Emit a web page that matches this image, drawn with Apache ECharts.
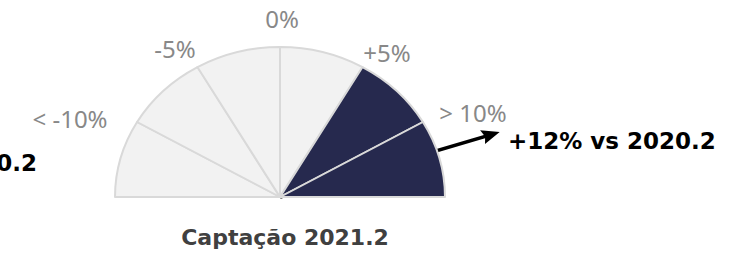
<!DOCTYPE html>
<html>
<head>
<meta charset="utf-8">
<script src="https://cdn.jsdelivr.net/npm/echarts@6/dist/echarts.min.js"></script>
<style>
  html, body { margin: 0; padding: 0; background: #fff; }
  #wrap { position: relative; width: 745px; height: 253px; }
  #gauge, #texts { position: absolute; left: 0; top: 0; width: 745px; height: 253px; }
  /* o velocímetro original é um pouco achatado na vertical */
  #gauge { transform: scaleY(0.909); transform-origin: 280px 197px; }
</style>
</head>
<body>
<div id="wrap">
  <div id="gauge"></div>
  <div id="texts"></div>
</div>
<script>
// faixas do velocímetro (da esquerda para a direita)
const faixas = ['< -10%', '-10% a -5%', '-5% a 0%', '0% a +5%', '+5% a +10%', '> 10%']
const pesos = [1, 1, 1, 1, 1, 1]
const atingido = [false, false, false, false, true, true]

// rótulos nas divisões
const rotulos = ['< -10%', '-5%', '0%', '+5%', '> 10%']

// valor apontado pela seta
const variacao = 12
const textoSeta = '+12% vs 2020.2'
const textoEsquerda = 'vs 2020.2'
const titulo = 'Captação 2021.2'

const corClara = '#f2f2f2'
const corEscura = '#26294e'

const gauge = echarts.init(document.getElementById('gauge'), null, { renderer: 'svg' })
gauge.setOption({
  animation: false,
  series: [
    {
      type: 'pie',
      center: [280, 197],
      radius: [0, 165],
      startAngle: 180,
      endAngle: 0,
      clockwise: true,
      silent: true,
      label: { show: false },
      labelLine: { show: false },
      itemStyle: { borderColor: '#d9d9d9', borderWidth: 2 },
      data: faixas.map((nome, i) => ({
        name: nome,
        value: pesos[i],
        itemStyle: { color: atingido[i] ? corEscura : corClara }
      }))
    },
    {
      type: 'gauge',
      center: [280, 197],
      radius: 231,
      startAngle: 180,
      endAngle: 0,
      min: -15,
      max: 15,
      axisLine: { show: false },
      axisTick: { show: false },
      splitLine: { show: false },
      axisLabel: { show: false },
      anchor: { show: false },
      title: { show: false },
      detail: { show: false },
      pointer: {
        icon: 'path://M8,0 L16,18 L10,16 L10,231 L6,231 L6,16 L0,18 Z',
        length: '100%',
        width: 16,
        itemStyle: { color: '#000' }
      },
      data: [{ value: variacao }]
    }
  ]
})

// posição dos rótulos (centro do texto)
const posRotulos = [[70, 118], [175, 48], [282, 18], [387, 52], [473, 112]]

const texts = echarts.init(document.getElementById('texts'), null, { renderer: 'svg' })
texts.setOption({
  animation: false,
  graphic: rotulos.map((r, i) => ({
    type: 'text',
    x: posRotulos[i][0],
    y: posRotulos[i][1],
    style: {
      text: r,
      fill: '#888888',
      font: '24px "Noto Sans"',
      textAlign: 'center',
      textVerticalAlign: 'middle'
    }
  })).concat([
    {
      type: 'text',
      x: 508,
      y: 141,
      style: {
        text: textoSeta,
        fill: '#000',
        font: 'bold 23px "DejaVu Sans"',
        textAlign: 'left',
        textVerticalAlign: 'middle'
      }
    },
    {
      type: 'text',
      x: 37,
      y: 163,
      style: {
        text: textoEsquerda,
        fill: '#000',
        font: 'bold 23px "DejaVu Sans"',
        textAlign: 'right',
        textVerticalAlign: 'middle'
      }
    },
    {
      type: 'text',
      x: 285,
      y: 237,
      style: {
        text: titulo,
        fill: '#404040',
        font: 'bold 22px "DejaVu Sans"',
        textAlign: 'center',
        textVerticalAlign: 'middle'
      }
    }
  ])
})
</script>
</body>
</html>
